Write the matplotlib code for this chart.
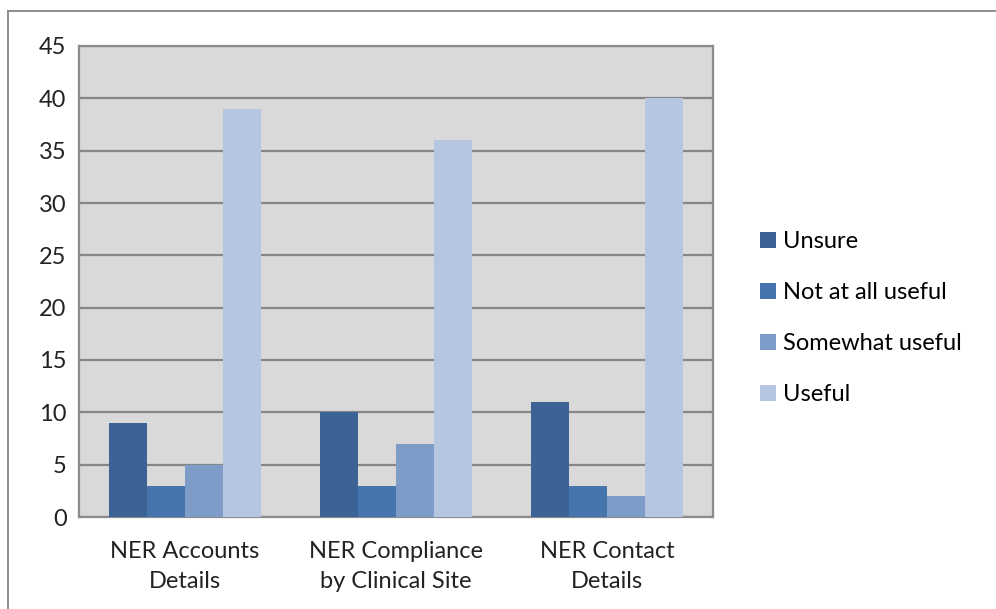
import matplotlib
matplotlib.use('Agg')
import matplotlib.pyplot as plt
from matplotlib.lines import Line2D
import numpy as np

categories = ['NER Accounts\nDetails', 'NER Compliance\nby Clinical Site', 'NER Contact\nDetails']
series = ['Unsure', 'Not at all useful', 'Somewhat useful', 'Useful']
unsure = [9, 10, 11]
not_useful = [3, 3, 3]
somewhat = [5, 7, 2]
useful = [39, 36, 40]
values = [unsure, not_useful, somewhat, useful]
colors = ['#3B6396', '#4675AE', '#7E9CC8', '#B7C6E0']

plt.rcParams['font.family'] = ['Lato', 'DejaVu Sans']
fs = 17

fig = plt.figure(figsize=(9.96, 6.09), dpi=100)
ax = fig.add_axes([79/996, 1 - 517/609, 634/996, 471/609])
ax.set_facecolor('#D9D9D9')

x = np.arange(len(categories))
w = 0.18
for i, (name, vals) in enumerate(zip(series, values)):
    ax.bar(x + (i - 1.5) * w, vals, w, color=colors[i], label=name, zorder=3)

ax.set_xlim(-0.5, 2.5)
ax.set_ylim(0, 45)
ax.set_yticks(range(0, 46, 5))
ax.set_xticks(x)
ax.set_xticklabels(categories, fontsize=fs, color='#222222', linespacing=1.55)
ax.tick_params(axis='both', length=0, labelsize=fs, colors='#222222')
ax.tick_params(axis='x', pad=17)
ax.tick_params(axis='y', pad=9)
ax.yaxis.grid(True, color='#868686', linewidth=1.6, zorder=0)
ax.set_axisbelow(True)
for side in ax.spines.values():
    side.set_color('#8C8C8C')
    side.set_linewidth(1.6)

leg = fig.legend(loc='upper left', bbox_to_anchor=(751/996, 1 - 222/609),
                 frameon=False, fontsize=fs, handlelength=0.65, handleheight=0.65,
                 handletextpad=0.3, labelspacing=1.27, borderaxespad=0)

# outer chart border (top and left only visible)
fig.add_artist(Line2D([8/996, 1], [1 - 11/609, 1 - 11/609], transform=fig.transFigure,
                      color='#8C8C8C', linewidth=1.4))
fig.add_artist(Line2D([8/996, 8/996], [0, 1 - 11/609], transform=fig.transFigure,
                      color='#8C8C8C', linewidth=1.4))

fig.savefig('out.png', dpi=100)
